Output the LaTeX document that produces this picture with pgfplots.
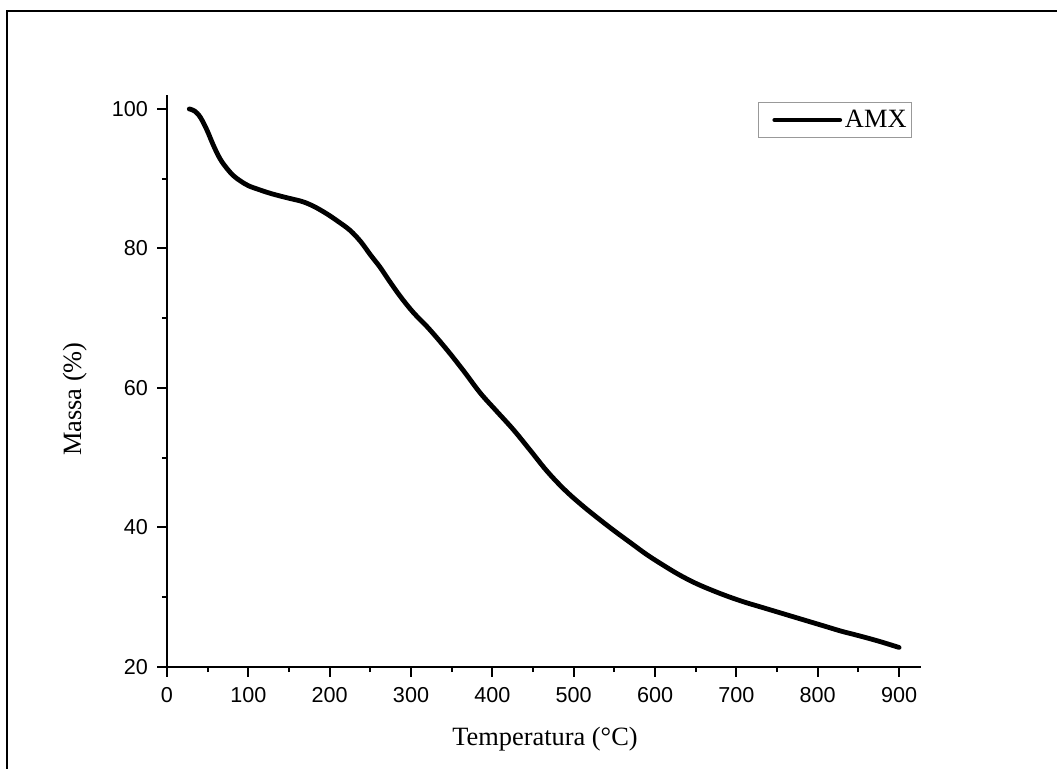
\documentclass[border=0pt]{standalone}
\usepackage{fontspec}
\setmainfont{Liberation Serif}
\newfontfamily\arialfont{Liberation Sans}
\usepackage{pgfplots}
\pgfplotsset{compat=1.18}
\begin{document}
\begin{tikzpicture}
\useasboundingbox (0,0) rectangle (528.5pt,384.5pt);
\draw[line width=1.15pt] (3.6pt,0) -- (3.6pt,378.9pt) -- (528.5pt,378.9pt);
\begin{axis}[
  at={(83.5pt,51pt)}, anchor=south west,
  scale only axis, width=377pt, height=286pt,
  xmin=0, xmax=927, ymin=20, ymax=102,
  axis x line*=bottom, axis y line*=left,
  axis line style={line width=1.15pt, -},
  xtick={0,100,...,900}, minor xtick={50,150,...,850},
  ytick={20,40,...,100}, minor ytick={30,50,70,90},
  tick align=outside,
  major tick length=4.8pt, minor tick length=2.6pt,
  every tick/.style={line width=1pt, black},
  /pgf/number format/assume math mode=true,
  ticklabel style={font=\arialfont\fontsize{10.8}{12}\selectfont, inner sep=0pt},
  xticklabel style={yshift=-5.4pt},
  yticklabel style={xshift=-4.5pt},
  xlabel={Temperatura (°C)},
  ylabel={Massa (\%)},
  label style={font=\fontsize{13.2}{15}\selectfont, inner sep=0pt},
  xlabel style={at={(axis description cs:0.5013,-0.1381)}, anchor=base},
  ylabel style={at={(axis description cs:-0.114,0.4685)}, anchor=base, rotate=0},
  legend style={at={(axis description cs:0.7838,0.9878)}, anchor=north west,
    draw=gray!80, line width=0.6pt, inner xsep=2.5pt, inner ysep=3.6pt,
    font=\fontsize{13.2}{15}\selectfont,
    nodes={inner sep=0pt}, column sep=1.4pt},
  legend image code/.code={\path (0pt,0pt); \draw[line width=2.4pt] (4.4pt,0pt) -- (36.9pt,0pt);},
  clip=false,
]
\addplot[black, line width=2.4pt, line cap=round, line join=round, smooth, tension=0.6] coordinates {
(27.4,100.0) (34,99.7) (41,98.8) (49,97.0) (57,94.8) (65,92.9) (73.4,91.5)
(82,90.4) (90,89.7) (100,89.0) (114,88.4) (130,87.8) (150,87.2)
(167,86.7) (181,86.0) (196,85.0) (210,83.9) (225,82.6) (238,81.0)
(250,79.1) (262,77.3) (273,75.4) (287,73.1) (303,70.8) (322,68.5)
(344,65.5) (365,62.4) (385,59.3) (405,56.7) (426,54.0) (447,51.0)
(467,48.1) (488,45.5) (508,43.4) (528,41.5) (549,39.6) (570,37.8)
(590,36.1) (610,34.6) (630,33.2) (650,32.0) (670,31.0) (690,30.1)
(710,29.3) (730,28.6) (750,27.9) (770,27.2) (790,26.5) (810,25.8)
(830,25.1) (850,24.5) (875,23.7) (900,22.8)
};
\addlegendentry{AMX}
\end{axis}
\end{tikzpicture}
\end{document}
